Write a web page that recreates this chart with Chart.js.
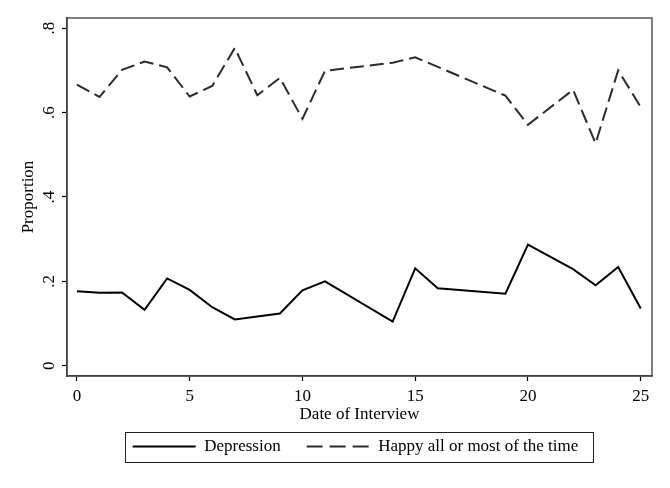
<!DOCTYPE html>
<html>
<head>
<meta charset="utf-8">
<script src="https://cdn.jsdelivr.net/npm/chart.js@4"></script>
<style>
  html, body { margin: 0; padding: 0; background: #fff; }
  #wrap { width: 670px; height: 488px; }
</style>
</head>
<body>
<div id="wrap"><canvas id="myChart"></canvas></div>
<script>
var depDays = [0, 1, 2, 3, 4, 5, 6, 7, 9, 10, 11, 14, 15, 16, 19, 20, 22, 23, 24, 25];
var depression = [0.177, 0.173, 0.174, 0.133, 0.207, 0.180, 0.139, 0.110, 0.124, 0.179, 0.200, 0.105, 0.231, 0.184, 0.171, 0.287, 0.229, 0.191, 0.234, 0.136];
var happyDays = [0, 1, 2, 3, 4, 5, 6, 7, 8, 9, 10, 11, 14, 15, 19, 20, 22, 23, 24, 25];
var happy = [0.666, 0.637, 0.701, 0.721, 0.707, 0.638, 0.663, 0.753, 0.641, 0.682, 0.585, 0.699, 0.718, 0.731, 0.640, 0.571, 0.654, 0.527, 0.700, 0.613];
var xTicks = [0, 5, 10, 15, 20, 25];
var yTicks = [0, 0.2, 0.4, 0.6, 0.8];
var yTickLabels = ['0', '.2', '.4', '.6', '.8'];

function points(xs, ys) {
  return xs.map(function(x, i) { return { x: x, y: ys[i] }; });
}

var serif = 'Liberation Serif';

// plot frame + legend box, and put the legend under the plot area
var framePlugin = {
  id: 'frame',
  afterLayout: function(chart) {
    var lg = chart.legend, a = chart.chartArea;
    var h = lg.bottom - lg.top;
    lg.left = a.left - 4;
    lg.right = a.right - 4;
    lg.width = a.right - a.left;
    lg.top = 448 - lg.options.labels.padding - 10;
    lg.bottom = lg.top + h;
  },
  afterDraw: function(chart) {
    var ctx = chart.ctx, a = chart.chartArea;
    ctx.save();
    ctx.strokeStyle = '#555';
    ctx.lineWidth = 1.5;
    ctx.strokeRect(a.left, a.top, a.right - a.left, a.bottom - a.top);
    var hb = chart.legend.legendHitBoxes;
    if (hb && hb.length) {
      var l = Math.min.apply(null, hb.map(function(b) { return b.left; }));
      var r = Math.max.apply(null, hb.map(function(b) { return b.left + b.width; }));
      var t = Math.min.apply(null, hb.map(function(b) { return b.top; }));
      var bt = Math.max.apply(null, hb.map(function(b) { return b.top + b.height; }));
      var cy = (t + bt) / 2;
      ctx.strokeStyle = '#222';
      ctx.lineWidth = 1;
      ctx.strokeRect(Math.round(l - 8) + 0.5, Math.round(cy - 15) + 0.5, Math.round(r - l + 22), 30);
    }
    ctx.restore();
  }
};

var ctx = document.getElementById('myChart');
new Chart(ctx, {
  type: 'line',
  data: {
    datasets: [{
      label: 'Depression',
      data: points(depDays, depression),
      borderColor: '#000',
      backgroundColor: '#000',
      borderWidth: 2,
      pointRadius: 0,
      tension: 0
    }, {
      label: 'Happy all or most of the time',
      data: points(happyDays, happy),
      borderColor: '#2b2b2b',
      backgroundColor: '#2b2b2b',
      borderWidth: 2,
      borderDash: [14, 6],
      pointRadius: 0,
      tension: 0
    }]
  },
  options: {
    responsive: true,
    maintainAspectRatio: false,
    animation: false,
    devicePixelRatio: 1,
    layout: { padding: { left: 0, right: 18, top: 18, bottom: 10 } },
    plugins: {
      tooltip: { enabled: false },
      legend: {
        position: 'bottom',
        labels: {
          usePointStyle: true,
          pointStyle: 'line',
          pointStyleWidth: 63,
          boxHeight: 10,
          padding: 26,
          color: '#000',
          font: { family: serif, size: 17 },
          generateLabels: function(chart) {
            var items = Chart.defaults.plugins.legend.labels.generateLabels(chart);
            items.forEach(function(it) {
              var ds = chart.data.datasets[it.datasetIndex];
              // three full dashes in the 63px sample
              it.lineDash = ds.borderDash ? [16, 7] : [];
              it.lineWidth = ds.borderWidth;
              it.strokeStyle = ds.borderColor;
            });
            return items;
          }
        }
      }
    },
    scales: {
      x: {
        type: 'linear',
        min: -0.44,
        max: 25.5,
        afterBuildTicks: function(s) { s.ticks = xTicks.map(function(v) { return { value: v }; }); },
        afterFit: function(s) { s.height = 49; },
        grid: { display: true, drawOnChartArea: false, drawTicks: true, tickLength: 5, color: '#000', tickWidth: 1.2 },
        border: { display: true, color: '#000', width: 1.5 },
        ticks: { padding: 5, color: '#000', font: { family: serif, size: 17 }, maxRotation: 0 },
        title: { display: true, text: 'Date of Interview', color: '#000', font: { family: serif, size: 17 }, padding: { top: 0, bottom: 0 } }
      },
      y: {
        min: -0.024,
        max: 0.824,
        afterBuildTicks: function(s) { s.ticks = yTicks.map(function(v) { return { value: v }; }); },
        afterFit: function(s) { s.width = 67; },
        grid: { display: true, drawOnChartArea: false, drawTicks: true, tickLength: 5, color: '#000', tickWidth: 1.2 },
        border: { display: true, color: '#000', width: 1.5 },
        ticks: {
          padding: 6,
          minRotation: 90,
          maxRotation: 90,
          crossAlign: 'center',
          color: '#000',
          font: { family: serif, size: 17 },
          callback: function(v) { return yTickLabels[yTicks.indexOf(v)]; }
        },
        title: { display: true, text: 'Proportion', color: '#000', font: { family: serif, size: 17 }, padding: { top: 18, bottom: 0 } }
      }
    }
  },
  plugins: [framePlugin]
});
</script>
</body>
</html>
